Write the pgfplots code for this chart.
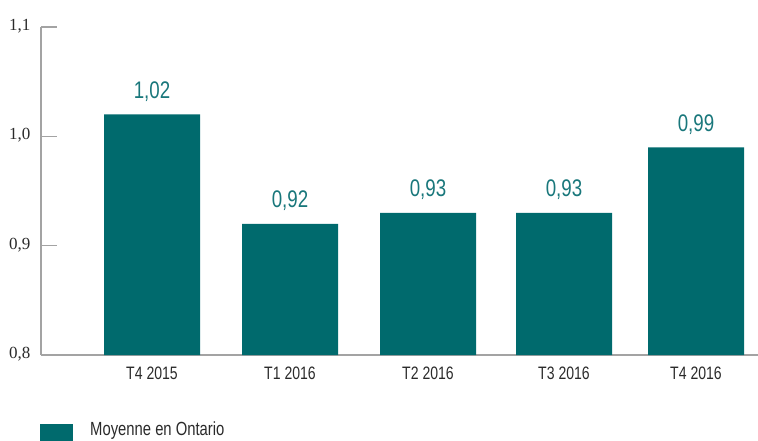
\documentclass[border=0pt]{standalone}
\usepackage{fontspec}
\setmainfont{Liberation Sans}[FakeStretch=0.78]
\newfontfamily\serifnum{Liberation Serif}
\usepackage{pgfplots}
\pgfplotsset{compat=1.18}
\definecolor{barteal}{HTML}{006A6D}
\definecolor{labteal}{HTML}{19777B}
\definecolor{axgray}{HTML}{A3A3A3}
\definecolor{txt}{HTML}{2A2A2A}
\begin{document}
\begin{tikzpicture}[x=1pt,y=1pt]
\useasboundingbox (-41,-85) rectangle (717,355);
\begin{axis}[
  at={(0pt,0pt)}, anchor=south west,
  scale only axis, width=717pt, height=328pt,
  xmin=41, xmax=758, ymin=0.8, ymax=1.1,
  axis x line*=bottom, axis y line*=left,
  axis line style={-, axgray, line width=1.5pt},
  xtick={152,290,428,564,696},
  xticklabels={T4 2015, T1 2016, T2 2016, T3 2016, T4 2016},
  major x tick style={draw=none},
  extra x ticks={219,359,497,632},
  extra x tick labels={},
  extra x tick style={tick align=inside, major tick length=8pt, tick style={axgray, line width=1.5pt}},
  xticklabel style={font=\fontsize{18}{21}\selectfont, text=txt, yshift=-8pt},
  ytick={0.8,0.9,1.0,1.1},
  yticklabel style={font=\serifnum\fontsize{17}{20}\selectfont, text=txt, xshift=-7pt, yshift=1pt, /pgf/number format/.cd, assume math mode=true, use comma, fixed, fixed zerofill, precision=1},
  y tick style={axgray, line width=1.5pt},
  tick align=inside, major tick length=16pt,
  clip=false,
  legend style={at={(axis cs:40,0.8)}, anchor=north west, yshift=-67pt, draw=none, fill=none, inner sep=0pt, column sep=17pt,
    font=\fontsize{19}{22}\selectfont, text=txt, nodes={inner sep=0pt}},
  legend cell align=left,
]
\addplot[ybar, fill=barteal, draw=none, bar width=96pt,
  legend image code/.code={\fill[barteal] (0pt,-27pt) rectangle (33pt,6pt);},
  nodes near coords={\pgfmathprintnumber[assume math mode=true, use comma, fixed, fixed zerofill, precision=2]{\pgfplotspointmeta}},
  every node near coord/.append style={anchor=base, yshift=16pt, text=labteal, font=\fontsize{24}{28}\selectfont},
] coordinates {(152,1.02) (290,0.92) (428,0.93) (564,0.93) (696,0.99)};
\addlegendentry{Moyenne en Ontario}
\end{axis}
\end{tikzpicture}
\end{document}
